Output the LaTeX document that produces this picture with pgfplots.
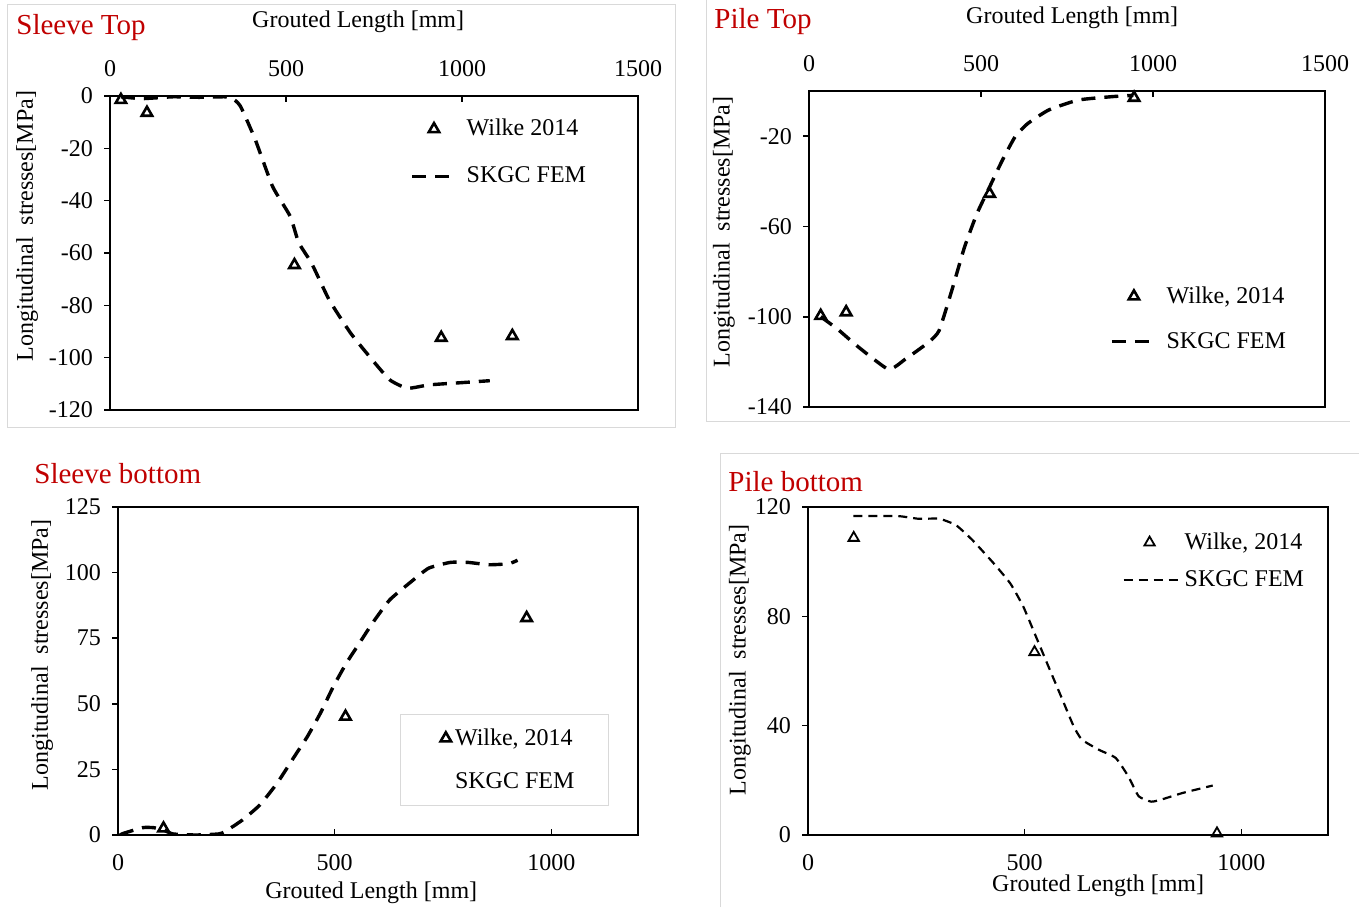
\documentclass[border=0pt]{standalone}
\usepackage{fontspec}
\setmainfont{Liberation Serif}
\usepackage{pgfplots}
\pgfplotsset{compat=1.18}
\definecolor{titlered}{RGB}{192,0,0}
\definecolor{framegray}{RGB}{217,217,217}
\pgfplotsset{
  common/.style={
    scale only axis, anchor=south west,
    axis line style={line width=1pt},
    tick align=inside, major tick length=3pt,
    tick style={line width=0.8pt, black},
    ytick style={xshift=-3pt},
    ytick pos=left, yticklabel pos=left,
    yticklabel style={xshift=-5pt},
    tick label style={font=\fontsize{12}{14}\selectfont},
    label style={font=\fontsize{12}{14}\selectfont},
    legend style={font=\fontsize{12}{14}\selectfont, draw=none, fill=none, anchor=north west,
      cells={anchor=west}, row sep=9pt, inner sep=0pt},
    scaled ticks=false,
    /pgf/number format/1000 sep={},
  },
  wilke/.style={only marks, mark=triangle, mark size=3pt, mark options={line width=1.3pt, black, fill=white},
    legend image code/.code={\draw[##1] plot coordinates {(11pt,0pt)};}},
  fem/.style={black, line width=1.7pt, dash pattern=on 7pt off 4.5pt, smooth, tension=0.3,
    legend image code/.code={\draw[##1,sharp plot] (0pt,0pt) -- (22.5pt,0pt);}},
  wilkeC/.style={wilke, legend image code/.code={\path (0pt,0pt); \draw[##1] plot coordinates {(7.5pt,0pt)};}},
  femC/.style={fem, legend image code/.code={\relax}},
  wilkeD/.style={wilke, mark size=3pt, mark options={line width=0.9pt, black, fill=white},
    legend image code/.code={\draw[##1] plot coordinates {(13pt,0pt)};}},
  femD/.style={fem, line width=1.1pt, dash pattern=on 4.5pt off 3pt,
    legend image code/.code={\draw[##1,sharp plot] (0pt,0pt) -- (28pt,0pt);}},
}
\begin{document}
\begin{tikzpicture}[font=\fontsize{12}{14}\selectfont]
\path[use as bounding box] (0,0) rectangle (679.5pt,453.5pt);
% frames
\draw[framegray, line width=0.5pt] (3.5pt,451pt) rectangle (337.5pt,240pt);
\draw[framegray, line width=0.5pt] (353pt,453.5pt) -- (353pt,243pt) -- (675pt,243pt);
\draw[framegray, line width=0.5pt] (360pt,0pt) -- (360pt,227pt) -- (679.5pt,227pt);
% titles
\node[anchor=west, inner sep=0pt, text=titlered, font=\fontsize{14.5}{16}\selectfont] at (8pt,439.5pt) {Sleeve Top};
\node[anchor=west, inner sep=0pt, text=titlered, font=\fontsize{14.5}{16}\selectfont] at (357pt,442.5pt) {Pile Top};
\node[anchor=west, inner sep=0pt, text=titlered, font=\fontsize{14.5}{16}\selectfont] at (17pt,216.5pt) {Sleeve bottom};
\node[anchor=west, inner sep=0pt, text=titlered, font=\fontsize{14.5}{16}\selectfont] at (364pt,212.5pt) {Pile bottom};

% ---------- Sleeve Top ----------
\begin{axis}[common, at={(55pt,248.5pt)}, width=264pt, height=157pt,
  xmin=0, xmax=1500, ymin=-120, ymax=0,
  xtick={0,500,1000,1500}, xtick pos=right, xticklabel pos=right,
  xticklabels={0,500,1000,1500},
  xticklabel style={yshift=6pt},
  ytick={-120,-100,-80,-60,-40,-20,0},
  yticklabels={-120,-100,-80,-60,-40,-20,0},
  xlabel={Grouted Length [mm]}, xlabel style={at={(axis description cs:0.47,1.236)}, anchor=center},
  ylabel={Longitudinal\ \ stresses[MPa]}, ylabel style={at={(axis description cs:-0.157,0.586)}, anchor=center},
  legend style={at={(axis description cs:0.568,0.94)}, row sep=10pt},
]
\addplot[wilke] coordinates {(31,-1.5) (105,-6.4) (524,-64.6) (941,-92.4) (1143,-91.7)};
\addlegendentry{\hspace{2pt}Wilke 2014}
\addplot[fem] coordinates {(31,-0.3) (92,-1) (179,-0.3) (253,-0.5) (339,-0.4) (370,-3.8) (413,-16.8) (462,-34.6) (512,-46) (536,-56) (573,-64) (623,-78) (684,-90.7) (746,-101) (795,-108.5) (845,-111.7) (906,-110.4) (993,-109.6) (1079,-108.8)};
\addlegendentry{\hspace{2pt}SKGC FEM}
\end{axis}

% ---------- Pile Top ----------
\begin{axis}[common, at={(404.5pt,250pt)}, width=258pt, height=158pt,
  xmin=0, xmax=1500, ymin=-140, ymax=0,
  xtick={0,500,1000,1500}, xtick pos=right, xticklabel pos=right,
  xticklabels={0,500,1000,1500},
  xticklabel style={yshift=6pt},
  ytick={-140,-100,-60,-20},
  yticklabels={-140,-100,-60,-20},
  xlabel={Grouted Length [mm]}, xlabel style={at={(axis description cs:0.51,1.231)}, anchor=center},
  ylabel={Longitudinal\ \ stresses[MPa]}, ylabel style={at={(axis description cs:-0.165,0.554)}, anchor=center},
  legend style={at={(axis description cs:0.583,0.395)}},
]
\addplot[wilke] coordinates {(34,-99.6) (108,-98) (525,-45.5) (945,-3.0)};
\addlegendentry{\hspace{2pt}Wilke, 2014}
\addplot[fem] coordinates {(34,-100) (83,-105.5) (145,-113.6) (231,-123.3) (280,-118.8) (347,-111.4) (378,-106.2) (415,-88.4) (452,-69.2) (488,-54.4) (525,-42.5) (562,-30.7) (599,-20.3) (636,-14.4) (697,-8.4) (783,-4) (881,-2.5) (943,-1.9)};
\addlegendentry{\hspace{2pt}SKGC FEM}
\end{axis}

% ---------- Sleeve bottom ----------
\begin{axis}[common, at={(59pt,36pt)}, width=260pt, height=164pt,
  xmin=0, xmax=1200, ymin=0, ymax=125,
  xtick={0,500,1000}, xtick pos=left, xticklabel pos=left,
  xticklabels={0,500,1000},
  xticklabel style={yshift=-6pt},
  ytick={0,25,50,75,100,125},
  yticklabels={0,25,50,75,100,125},
  xlabel={Grouted Length [mm]}, xlabel style={at={(axis description cs:0.487,-0.177)}, anchor=center},
  ylabel={Longitudinal\ \ stresses[MPa]}, ylabel style={at={(axis description cs:-0.146,0.549)}, anchor=center},
  legend style={at={(axis description cs:0.542,0.369)}, draw=framegray, line width=0.5pt, inner xsep=15pt, inner ysep=5pt, row sep=8pt},
]
\addplot[wilkeC] coordinates {(105,2.5) (525,45.1) (943,82.7)};
\addlegendentry{Wilke, 2014}
\addplot[femC] coordinates {(5,0) (12,0.6) (57,2.8) (82,2.8) (105,1.9) (127,0.4) (180,0) (232,0.4) (247,1.3) (287,5.7) (327,11.4) (367,19.7) (407,29.9) (437,37.5) (467,46.4) (497,56.6) (527,65.5) (557,73.1) (587,80.7) (627,89.6) (677,96.6) (717,101.7) (767,103.9) (807,103.9) (857,103) (902,103.4) (922,104.7)};
\addlegendentry{SKGC FEM}
\end{axis}

% ---------- Pile bottom ----------
\begin{axis}[common, at={(404pt,36pt)}, width=260pt, height=164pt,
  xmin=0, xmax=1200, ymin=0, ymax=120,
  xtick={0,500,1000}, xtick pos=left, xticklabel pos=left,
  xticklabels={0,500,1000},
  xticklabel style={yshift=-6pt},
  ytick={0,40,80,120},
  yticklabels={0,40,80,120},
  xlabel={Grouted Length [mm]}, xlabel style={at={(axis description cs:0.558,-0.155)}, anchor=center},
  ylabel={Longitudinal\ \ stresses[MPa]}, ylabel style={at={(axis description cs:-0.131,0.534)}, anchor=center},
  legend style={at={(axis description cs:0.604,0.935)}, row sep=5pt},
]
\addplot[wilkeD] coordinates {(105.5,108.7) (522.7,66.9) (943.8,0.6)};
\addlegendentry{Wilke, 2014}
\addplot[femD] coordinates {(104.5,116.7) (206,116.7) (255,115.7) (303,115.7) (342,113.3) (380,107.8) (429,99.3) (467,92) (497,83.5) (526,72.6) (555,61.6) (584,50.7) (613,39.8) (632,34.9) (671,31.2) (710,28.2) (739,21.5) (763,14.2) (792,12.2) (816,13) (865,15.4) (934,18.1)};
\addlegendentry{SKGC FEM}
\end{axis}
\end{tikzpicture}
\end{document}
